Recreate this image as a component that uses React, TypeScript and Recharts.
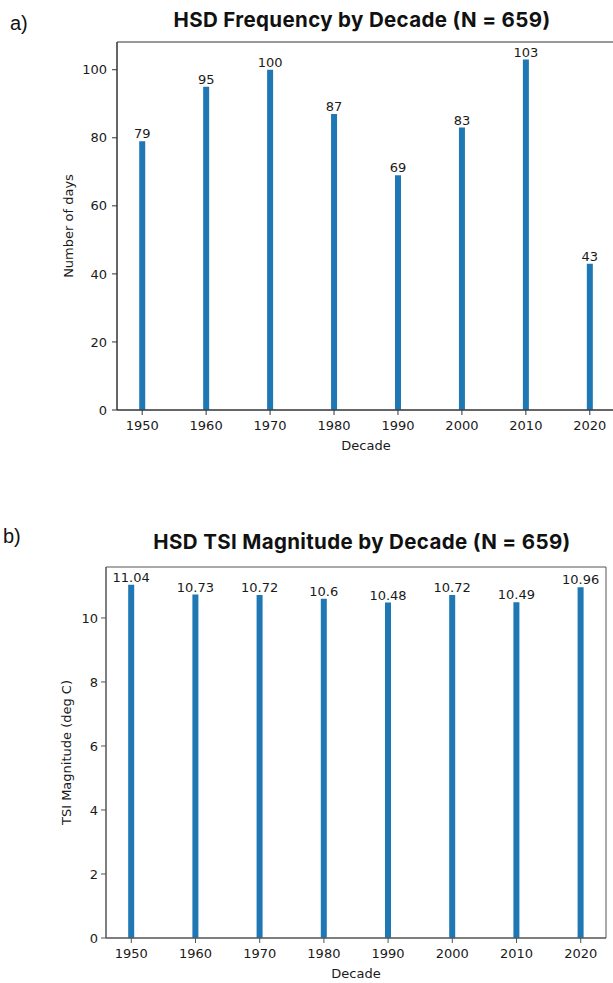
import React from "react";
import { BarChart, Bar, XAxis, YAxis, LabelList, ReferenceArea } from "recharts";

const decades = [1950, 1960, 1970, 1980, 1990, 2000, 2010, 2020];
const dayCounts = [79, 95, 100, 87, 69, 83, 103, 43];
const tsiMagnitudes = [11.04, 10.73, 10.72, 10.6, 10.48, 10.72, 10.49, 10.96];
const dayTicks = [0, 20, 40, 60, 80, 100];
const tsiTicks = [0, 2, 4, 6, 8, 10];

const freqData = decades.map((d, i) => ({ decade: d, value: dayCounts[i] }));
const tsiData = decades.map((d, i) => ({ decade: d, value: tsiMagnitudes[i] }));

const FONT = "'DejaVu Sans', sans-serif";
const TITLE_FONT = "Inter, 'Liberation Sans', sans-serif";
const BLUE = "#1f77b4";
const INK = "#1a1a1a";
const X_DOMAIN: [number, number] = [1946.06, 2023.94];

const tickStyle = { fontSize: 13, fill: INK, fontFamily: FONT };

const yLabel = (text: string, bx: number) => (p: any) => {
  const vb = p.viewBox || {};
  const cy = vb.y + vb.height / 2;
  return (
    <text
      x={bx}
      y={cy}
      transform={`rotate(-90 ${bx} ${cy})`}
      textAnchor="middle"
      fontSize={13}
      fill={INK}
      fontFamily={FONT}
    >
      {text}
    </text>
  );
};

interface PanelProps {
  data: { decade: number; value: number }[];
  width: number;
  height: number;
  margin: { top: number; right: number; left: number; bottom: number };
  yWidth: number;
  xHeight: number;
  yMax: number;
  yTicks: number[];
  yTitle: string;
  yTitleX: number;
  yTickMargin: number;
  decadeOffset: number;
  spine: string;
}

const Panel: React.FC<PanelProps> = (p) => (
  <BarChart width={p.width} height={p.height} data={p.data} margin={p.margin}>
    <XAxis
      xAxisId="main"
      dataKey="decade"
      type="number"
      domain={X_DOMAIN}
      ticks={decades}
      allowDataOverflow
      height={p.xHeight}
      tick={tickStyle}
      tickSize={5}
      tickMargin={6}
      axisLine={{ stroke: p.spine }}
      tickLine={{ stroke: p.spine }}
      label={{
        value: "Decade",
        position: "insideBottom",
        offset: p.decadeOffset,
        style: { fontSize: 13, fill: INK, fontFamily: FONT },
      }}
    />
    <YAxis
      yAxisId="main"
      type="number"
      domain={[0, p.yMax]}
      ticks={p.yTicks}
      allowDataOverflow
      width={p.yWidth}
      tick={tickStyle}
      tickSize={5}
      tickMargin={p.yTickMargin}
      axisLine={{ stroke: p.spine }}
      tickLine={{ stroke: p.spine }}
      label={yLabel(p.yTitle, p.yTitleX)}
    />
    {/* frame around the plot area, like matplotlib spines */}
    <ReferenceArea
      xAxisId="main"
      yAxisId="main"
      x1={X_DOMAIN[0]}
      x2={X_DOMAIN[1]}
      y1={0}
      y2={p.yMax}
      fill="none"
      fillOpacity={0}
      stroke={p.spine}
      strokeWidth={1}
      ifOverflow="visible"
    />
    <Bar
      xAxisId="main"
      yAxisId="main"
      dataKey="value"
      fill={BLUE}
      barSize={6}
      isAnimationActive={false}
    >
      <LabelList
        dataKey="value"
        position="top"
        offset={3}
        style={{ fontSize: 13, fill: INK, fontFamily: FONT }}
      />
    </Bar>
  </BarChart>
);

const titleStyle = {
  fontSize: 20.5,
  fontWeight: 700,
  fontFamily: TITLE_FONT,
  letterSpacing: 0.35,
};

export default function App() {
  return (
    <div
      style={{
        position: "absolute",
        left: 0,
        top: 0,
        width: 613,
        height: 983,
        overflow: "hidden",
        background: "#fff",
      }}
    >
      <div style={{ position: "absolute", left: 0, top: 0 }}>
        <Panel
          data={freqData}
          width={625}
          height={460}
          margin={{ top: 42, right: 10, left: 0, bottom: 0 }}
          yWidth={117}
          xHeight={50}
          yMax={108.15}
          yTicks={dayTicks}
          yTitle="Number of days"
          yTitleX={73}
          yTickMargin={5}
          decadeOffset={10}
          spine="#333"
        />
      </div>
      <div style={{ position: "absolute", left: 0, top: 520 }}>
        <Panel
          data={tsiData}
          width={613}
          height={463}
          margin={{ top: 47, right: 7, left: 0, bottom: 0 }}
          yWidth={106}
          xHeight={45}
          yMax={11.592}
          yTicks={tsiTicks}
          yTitle="TSI Magnitude (deg C)"
          yTitleX={71}
          yTickMargin={3}
          decadeOffset={5}
          spine="#555"
        />
      </div>
      <svg
        width={613}
        height={983}
        style={{ position: "absolute", left: 0, top: 0, pointerEvents: "none" }}
      >
        <text x={10} y={30} fontSize={20} fontFamily="'Liberation Sans', sans-serif" fill="#111">
          a)
        </text>
        <text x={362} y={27} textAnchor="middle" fill="#111" style={titleStyle}>
          HSD Frequency by Decade (N = 659)
        </text>
        <text x={3} y={543} fontSize={20} fontFamily="'Liberation Sans', sans-serif" fill="#111">
          b)
        </text>
        <text x={362} y={549} textAnchor="middle" fill="#111" style={titleStyle}>
          HSD TSI Magnitude by Decade (N = 659)
        </text>
      </svg>
    </div>
  );
}
